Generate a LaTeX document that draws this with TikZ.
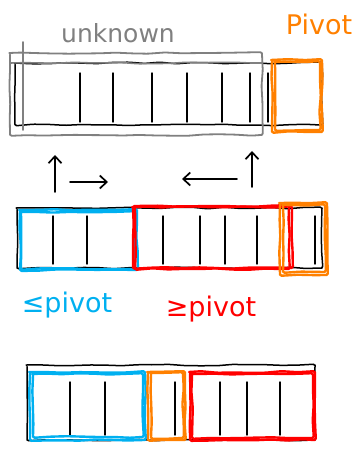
\documentclass[tikz,border=0pt]{standalone}
\usepackage{fontspec}
\setmainfont{DejaVu Sans}
\usetikzlibrary{decorations.pathmorphing,arrows.meta}
\definecolor{lowblue}{RGB}{0,176,240}
\definecolor{pivorange}{RGB}{255,128,0}
\definecolor{highred}{RGB}{255,0,0}
\definecolor{scangray}{RGB}{128,128,128}
\begin{document}
\pgfmathsetseed{7}
\begin{tikzpicture}[x=1pt,y=-1pt,
  sketchline/.style={decorate,decoration={random steps,segment length=16pt,amplitude=0.8pt},
    rounded corners=1.5pt,line cap=round,line join=round},
  slotnode/.style={anchor=north west,inner sep=0pt,outer sep=0pt},
  arrframe/.style={sketchline,draw=black,line width=1.5pt},
  cellbar/.style={draw=black,line width=1.4pt,line cap=round},
  hullbox/.style={sketchline,line width=2.4pt},
  ptrarrow/.style={draw=black,line width=1.7pt,line cap=round,-{Straight Barb[length=7pt,width=13pt]}},
  lbltext/.style={inner sep=0pt,font=\fontsize{27}{29}\selectfont}
]
\useasboundingbox (0,0) rectangle (356,457);

% ---------- row 1: unknown region and pivot ----------
\node[slotnode,minimum width=307pt,minimum height=62pt] (arrA) at (15,63) {};
\node[slotnode,minimum width=252pt,minimum height=82pt] (unk) at (10,53) {};
\node[slotnode,minimum width=50pt,minimum height=72pt] (pivA) at (272,60) {};
\draw[arrframe] (arrA.north west) rectangle (arrA.south east);
\foreach \x in {80,113,152,187,222,250,268}
  \draw[cellbar] (\x,73) -- (\x,122);
\draw[hullbox,scangray,line width=1.8pt] (unk.north west) rectangle (unk.south east);
\draw[hullbox,scangray,line width=1.6pt] ([shift={(0,10)}]unk.north west) -- ([shift={(0,10)}]unk.north east);
\coordinate (tick) at (23,42);
\draw[scangray,line width=1.6pt,line cap=round] (tick) -- (23,130);
\draw[hullbox,pivorange] (pivA.north west) rectangle (pivA.south east);
\draw[hullbox,pivorange] ([shift={(3,2)}]pivA.north west) rectangle ([shift={(-2,-2)}]pivA.south east);
\node[lbltext,text=scangray,font=\fontsize{25}{27}\selectfont] (unkLbl) at (118,33) {unknown};
\node[lbltext,text=pivorange] (pivLbl) at (319,24) {Pivot};

% ---------- scanning pointers ----------
\coordinate (iFoot) at (55,192);
\coordinate (iHead) at (55,155);
\coordinate (iFrom) at (70,182);
\coordinate (iTo) at (108,182);
\coordinate (jFoot) at (252,187);
\coordinate (jHead) at (252,151);
\coordinate (jFrom) at (237,179);
\coordinate (jTo) at (182,179);
\draw[ptrarrow] (iFoot) -- (iHead);
\draw[ptrarrow] (iFrom) -- (iTo);
\draw[ptrarrow] (jFoot) -- (jHead);
\draw[ptrarrow] (jFrom) -- (jTo);

% ---------- row 2: partition in progress ----------
\node[slotnode,minimum width=305pt,minimum height=60pt] (arrB) at (17,208) {};
\node[slotnode,minimum width=117pt,minimum height=60pt] (lowB) at (20,210) {};
\node[slotnode,minimum width=159pt,minimum height=61pt] (highB) at (133,207) {};
\node[slotnode,minimum width=47pt,minimum height=72pt] (pivB) at (280,203) {};
\draw[arrframe] (arrB.north west) rectangle (arrB.south east);
\foreach \x in {53,87,163,200,225,257,315}
  \draw[cellbar] (\x,216) -- (\x,264);
\draw[hullbox,lowblue] (lowB.north west) rectangle (lowB.south east);
\draw[hullbox,lowblue] ([shift={(1,2)}]lowB.north west) rectangle ([shift={(-3,-1)}]lowB.south east);
\draw[hullbox,highred] (highB.north west) rectangle (highB.south east);
\draw[hullbox,highred] ([shift={(2,-1)}]highB.north west) rectangle ([shift={(-3,1)}]highB.south east);
\draw[hullbox,pivorange] (pivB.north west) rectangle (pivB.south east);
\draw[hullbox,pivorange] ([shift={(3,2)}]pivB.north west) rectangle ([shift={(-2,-3)}]pivB.south east);
\node[lbltext,text=lowblue] (leLbl) at (67,305) {≤pivot};
\node[lbltext,text=highred] (geLbl) at (211,309) {≥pivot};

% ---------- row 3: pivot in its final place ----------
\node[slotnode,minimum width=288pt,minimum height=75pt] (arrC) at (27,365) {};
\node[slotnode,minimum width=115pt,minimum height=68pt] (lowC) at (30,372) {};
\node[slotnode,minimum width=37pt,minimum height=68pt] (pivC) at (148,372) {};
\node[slotnode,minimum width=125pt,minimum height=68pt] (highC) at (190,372) {};
\draw[arrframe] (arrC.north west) rectangle (arrC.south east);
\foreach \x in {70,105,175,220,247,280}
  \draw[cellbar] (\x,382) -- (\x,435);
\draw[hullbox,lowblue] (lowC.north west) rectangle (lowC.south east);
\draw[hullbox,lowblue] ([shift={(3,2)}]lowC.north west) rectangle ([shift={(-2,-3)}]lowC.south east);
\draw[hullbox,pivorange] (pivC.north west) rectangle (pivC.south east);
\draw[hullbox,pivorange] ([shift={(3,1)}]pivC.north west) rectangle ([shift={(-2,-2)}]pivC.south east);
\draw[hullbox,highred] (highC.north west) rectangle (highC.south east);
\draw[hullbox,highred] ([shift={(2,2)}]highC.north west) rectangle ([shift={(-2,-2)}]highC.south east);
\end{tikzpicture}
\end{document}
